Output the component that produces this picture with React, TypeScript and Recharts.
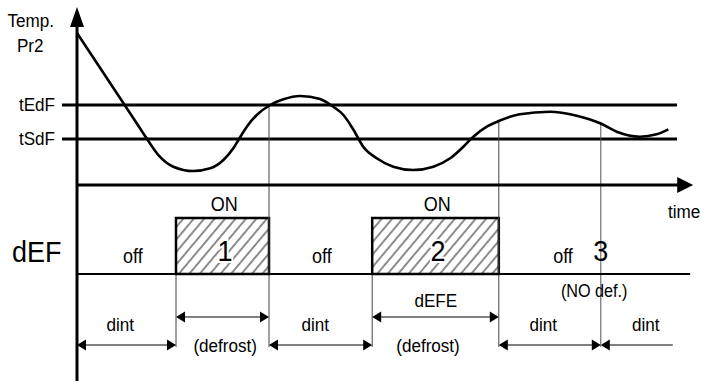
import React from 'react'
import { LineChart, Line, XAxis, YAxis, ReferenceLine, ReferenceArea, ReferenceDot } from 'recharts'

// temperature curve (time units, temp units)
const times = [0, 10.5, 11.6, 13.8, 16.05, 19.4, 22.2, 24.4, 26.05, 26.9, 28.3, 29.95, 32.2, 34.4, 37.2, 40.5, 42.7, 44.4, 46.0, 47.7, 49.95, 52.7, 56.05, 59.4, 62.2, 64.4, 66.05, 68.3, 70.5, 73.8, 78.8, 83.3, 87.2, 89.95, 93.8, 96.6, 98.55]
const temps = [15.2, 5.67, 4.67, 2.83, 1.83, 1.4, 1.67, 2.5, 3.67, 4.5, 5.83, 7.0, 8.0, 8.57, 8.9, 8.6, 7.83, 7.0, 5.6, 3.83, 2.67, 1.83, 1.5, 1.83, 2.67, 3.83, 4.83, 5.83, 6.45, 7.07, 7.33, 6.93, 6.17, 5.33, 4.83, 5.07, 5.57]

const thresholdNames = ['tEdF', 'tSdF']
const thresholdTemps = [8.0, 4.6]

// defrost cycles
const defrostStart = [16.5, 49.2]
const defrostEnd = [32, 70.3]
const defrostNames = ['1', '2']
const defrostTopTemps = [8.0, 6.4] // curve value where each defrost ends
const skipTime = 87.3 // 3rd interval: no defrost
const skipTemp = 6.1
const dintEnd = 99.3

// timing diagram levels
const levelOff = -8.9
const levelOn = -3.3
const rowDefrost = -13.2
const rowDint = -16.0
const guideBottom = -16.2
const yMin = -19.6
const yMax = 18.5

const data = times.map((t, i) => ({ t, temp: temps[i] }))

const FONT = "'Liberation Sans', Arial, sans-serif"

const note = (key: string, t: number, v: number, text: string, size: number, anchor = 'middle', halo = false) => (
  <ReferenceDot
    key={key}
    x={t}
    y={v}
    ifOverflow='visible'
    shape={(p: any) => (
      <text
        transform={`translate(${p.cx},${p.cy}) scale(0.9,1)`}
        textAnchor={anchor}
        fontSize={size}
        fontFamily={FONT}
        fill='#000'
        stroke={halo ? '#fff' : 'none'}
        strokeWidth={halo ? 4 : 0}
        paintOrder='stroke'
      >
        {text}
      </text>
    )}
  />
)

const arrow = (headStart: boolean, headEnd: boolean, len = 9, half = 5.5) => (p: any) => {
  const { x1, y1, x2, y2 } = p
  const dx = x2 - x1
  const dy = y2 - y1
  const L = Math.hypot(dx, dy) || 1
  const ux = dx / L
  const uy = dy / L
  const head = (tx: number, ty: number, dir: number) => {
    const bx = tx - dir * ux * len
    const by = ty - dir * uy * len
    return `${tx},${ty} ${bx - uy * half},${by + ux * half} ${bx + uy * half},${by - ux * half}`
  }
  const sx = headStart ? x1 + ux * len * 0.5 : x1
  const sy = headStart ? y1 + uy * len * 0.5 : y1
  const ex = headEnd ? x2 - ux * len * 0.5 : x2
  const ey = headEnd ? y2 - uy * len * 0.5 : y2
  return (
    <g>
      <line x1={sx} y1={sy} x2={ex} y2={ey} stroke={p.stroke} strokeWidth={p.strokeWidth} />
      {headStart && <polygon points={head(x1, y1, -1)} fill={p.stroke} />}
      {headEnd && <polygon points={head(x2, y2, 1)} fill={p.stroke} />}
    </g>
  )
}

const seg = (key: string, xa: number, ya: number, xb: number, yb: number, stroke: string, width: number, shape?: any) => (
  <ReferenceLine
    key={key}
    segment={[{ x: xa, y: ya }, { x: xb, y: yb }]}
    stroke={stroke}
    strokeWidth={width}
    ifOverflow='visible'
    shape={shape}
  />
)

export default function App() {
  const dintSpans = [
    [0, defrostStart[0]],
    [defrostEnd[0], defrostStart[1]],
    [defrostEnd[1], skipTime],
  ]
  return (
    <div style={{ width: 703, height: 381, background: '#fff' }}>
      <style>{'body{margin:0}'}</style>
      <LineChart width={703} height={381} data={data} margin={{ top: 0, right: 26, bottom: 0, left: 77 }}>
        <defs>
          <pattern id='hatch' patternUnits='userSpaceOnUse' width={8} height={8} patternTransform='rotate(40)'>
            <line x1={1} y1={0} x2={1} y2={8} stroke='#000' strokeWidth={0.9} />
          </pattern>
        </defs>
        <XAxis dataKey='t' type='number' domain={[0, 100]} hide />
        <YAxis type='number' domain={[yMin, yMax]} hide />

        {defrostStart.map((s, i) => (
          <ReferenceArea
            key={'box' + i}
            x1={s}
            x2={defrostEnd[i]}
            y1={levelOff}
            y2={levelOn}
            fill='url(#hatch)'
            fillOpacity={1}
            stroke='#000'
            strokeWidth={2.5}
          />
        ))}

        {thresholdTemps.map((v, i) => seg('th' + i, -2.5, v, 100, v, '#000', 3))}

        {/* guide lines */}
        {defrostStart.map((s, i) => seg('gs' + i, s, levelOff, s, guideBottom, '#444', 1))}
        {defrostEnd.map((e, i) => seg('ge' + i, e, defrostTopTemps[i], e, guideBottom, '#444', 1))}
        {seg('gskip', skipTime, skipTemp, skipTime, guideBottom, '#555', 1)}

        {/* axes */}
        {seg('xaxis', 0, 0, 102.7, 0, '#000', 3, arrow(false, true, 16, 8))}
        {seg('defbase', 0, levelOff, 102.2, levelOff, '#000', 2.2)}
        {seg('yaxis', 0, yMin, 0, 17.8, '#000', 3, arrow(false, true, 20, 7))}

        {/* interval arrows */}
        {defrostStart.map((s, i) => seg('da' + i, s, rowDefrost, defrostEnd[i], rowDefrost, '#000', 1, arrow(true, true)))}
        {dintSpans.map((d, i) => seg('di' + i, d[0], rowDint, d[1], rowDint, '#000', 1, arrow(true, true)))}
        {seg('dilast', skipTime, rowDint, dintEnd, rowDint, '#000', 1, arrow(true, false))}

        <Line
          type='monotone'
          dataKey='temp'
          stroke='#000'
          strokeWidth={2.6}
          dot={false}
          activeDot={false}
          isAnimationActive={false}
        />

        {note('temp', -7.7, 15.8, 'Temp.', 19)}
        {note('pr2', -7.8, 13.3, 'Pr2', 19)}
        {thresholdNames.map((n, i) => note('thl' + i, -3.67, thresholdTemps[i] - 0.6, n, 19, 'end'))}
        {note('time', 98.5, -3.3, 'time', 19, 'start')}
        {note('def', -6.7, -7.7, 'dEF', 30)}

        {defrostStart.map((s, i) => note('on' + i, (s + defrostEnd[i]) / 2 + 0.3, -2.6, 'ON', 20))}
        {defrostNames.map((n, i) => note('num' + i, (defrostStart[i] + defrostEnd[i]) / 2 + 0.4, -7.6, n, 30, 'middle', true))}
        {note('num3', skipTime, -7.6, '3', 30)}
        {note('off1', 9.3, -7.8, 'off', 20)}
        {note('off2', 40.8, -7.8, 'off', 20)}
        {note('off3', 81, -7.8, 'off', 20)}
        {note('nodef', 86.2, -11.2, '(NO def.)', 18)}
        {note('defe', 59.8, -12.2, 'dEFE', 19)}
        {note('dfr1', 24.7, -16.7, '(defrost)', 19)}
        {note('dfr2', 58.5, -16.7, '(defrost)', 19)}
        {note('dint1', 7.2, -14.6, 'dint', 19)}
        {note('dint2', 39.7, -14.6, 'dint', 19)}
        {note('dint3', 77.7, -14.6, 'dint', 19)}
        {note('dint4', 94.8, -14.6, 'dint', 19)}
      </LineChart>
    </div>
  )
}
